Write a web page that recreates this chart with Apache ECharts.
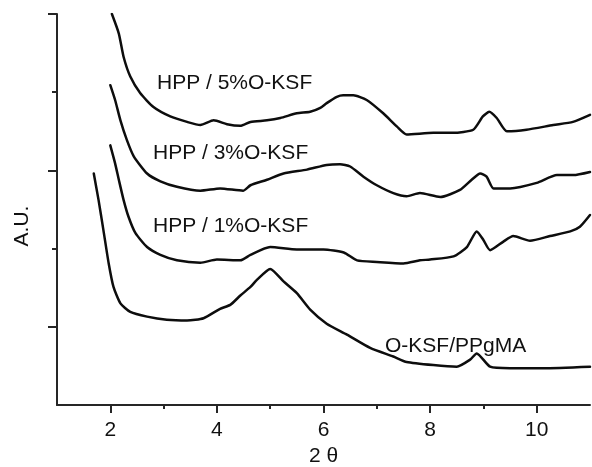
<!DOCTYPE html>
<html><head><meta charset="utf-8">
<script src="https://cdn.jsdelivr.net/npm/echarts@6/dist/echarts.min.js"></script>
<style>html,body{margin:0;padding:0;background:#fff}#c{width:592px;height:467px}</style>
</head><body><div id="c"></div>
<script>
// ---- data ----
const xTickLabels = [2, 4, 6, 8, 10];
const xMinorTicks = [3, 5, 7, 9];
const yMajorTicks = [1, 3, 5];
const yMinorTicks = [2, 4];
const seriesNames = ['HPP / 5%O-KSF', 'HPP / 3%O-KSF', 'HPP / 1%O-KSF', 'O-KSF/PPgMA'];

const hpp5 = [[2.03,5.0],[2.16,4.75],[2.25,4.45],[2.375,4.20],[2.56,3.99],[2.81,3.81],[3.125,3.69],[3.44,3.62],[3.69,3.58],[3.94,3.64],[4.19,3.59],[4.44,3.57],[4.63,3.62],[4.94,3.64],[5.19,3.67],[5.5,3.73],[5.75,3.75],[5.94,3.80],[6.06,3.86],[6.25,3.94],[6.37,3.96],[6.56,3.96],[6.81,3.90],[7.12,3.73],[7.38,3.56],[7.56,3.46],[8.06,3.48],[8.43,3.48],[8.81,3.52],[8.99,3.69],[9.11,3.75],[9.25,3.67],[9.44,3.50],[9.81,3.52],[10.31,3.58],[10.68,3.62],[11.0,3.71]];
const hpp3 = [[2.0,4.09],[2.09,3.90],[2.19,3.64],[2.31,3.39],[2.44,3.18],[2.69,2.96],[2.94,2.86],[3.25,2.79],[3.69,2.74],[4.06,2.77],[4.49,2.74],[4.63,2.81],[4.94,2.88],[5.25,2.96],[5.69,3.01],[6.06,3.07],[6.31,3.08],[6.5,3.05],[6.75,2.92],[7.0,2.81],[7.31,2.71],[7.56,2.67],[7.81,2.71],[8.19,2.66],[8.56,2.75],[8.78,2.88],[8.94,2.96],[9.06,2.92],[9.19,2.77],[9.5,2.77],[10.0,2.84],[10.38,2.94],[10.69,2.94],[11.0,2.98]];
const hpp1 = [[2.0,3.32],[2.09,3.09],[2.16,2.88],[2.25,2.62],[2.34,2.41],[2.47,2.20],[2.69,2.02],[2.94,1.92],[3.25,1.85],[3.69,1.82],[4.0,1.86],[4.44,1.85],[4.63,1.92],[5.0,2.02],[5.5,1.99],[6.0,1.99],[6.38,1.95],[6.63,1.85],[7.0,1.83],[7.5,1.81],[7.81,1.85],[8.0,1.86],[8.44,1.90],[8.69,2.02],[8.875,2.22],[9.0,2.11],[9.125,1.98],[9.375,2.09],[9.56,2.16],[9.875,2.10],[10.25,2.16],[10.63,2.22],[10.81,2.28],[11.0,2.43]];
const oksf = [[1.69,2.96],[1.78,2.62],[1.87,2.24],[1.97,1.81],[2.06,1.51],[2.19,1.30],[2.375,1.19],[2.69,1.13],[3.06,1.09],[3.44,1.08],[3.75,1.11],[4.06,1.23],[4.25,1.28],[4.44,1.40],[4.63,1.51],[4.75,1.60],[5.0,1.74],[5.25,1.58],[5.5,1.43],[5.75,1.22],[6.06,1.04],[6.44,0.90],[6.875,0.73],[7.31,0.62],[7.56,0.55],[8.06,0.51],[8.5,0.49],[8.75,0.58],[8.875,0.66],[9.125,0.49],[9.5,0.47],[10.12,0.47],[11.0,0.49]];

// ---- chart ----
const font = '"Liberation Sans", Arial, sans-serif';
const axisColor = '#262626';
const textColor = '#111';
const lineColor = '#0d0d0d';

const chart = echarts.init(document.getElementById('c'), null, {renderer: 'canvas'});

function lineSeries(name, data) {
  return {
    name: name, type: 'line', data: data, showSymbol: false, symbol: 'none',
    xAxisIndex: 0, yAxisIndex: 0,
    lineStyle: {color: lineColor, width: 2.5, join: 'round', cap: 'round'}, smooth: 0.2, silent: true
  };
}

function annotation(text, x, y) {
  return {
    type: 'text', x: x, y: y, silent: true,
    style: {text: text, fontSize: 21, fontFamily: font, fill: textColor,
            textAlign: 'left', textVerticalAlign: 'middle', align: 'left', verticalAlign: 'middle'}
  };
}

const option = {
  animation: false,
  backgroundColor: '#fff',
  grid: {left: 57, right: 2, top: 14, bottom: 62, containLabel: false, outerBoundsMode: 'none'},
  xAxis: [{
    type: 'value', min: 1, max: 11, interval: 1,
    axisLine: {lineStyle: {color: axisColor, width: 2}},
    axisTick: {customValues: xMinorTicks, length: 4, lineStyle: {color: axisColor, width: 2}},
    axisLabel: {customValues: xTickLabels, fontSize: 21, fontFamily: font, color: textColor, margin: 15},
    splitLine: {show: false},
    name: '2 θ', nameLocation: 'middle', nameGap: 41,
    nameTextStyle: {fontSize: 21, fontFamily: font, color: textColor}
  }, {
    type: 'value', min: 1, max: 11, interval: 1, position: 'bottom',
    axisLine: {show: false},
    axisTick: {customValues: xTickLabels, length: 8, lineStyle: {color: axisColor, width: 2}},
    axisLabel: {show: false},
    splitLine: {show: false}
  }],
  yAxis: [{
    type: 'value', min: 0, max: 5, interval: 1,
    axisLine: {show: true, lineStyle: {color: axisColor, width: 2}},
    axisTick: {show: true, customValues: yMinorTicks, length: 5, lineStyle: {color: axisColor, width: 2}},
    axisLabel: {show: false},
    splitLine: {show: false}
  }, {
    type: 'value', min: 0, max: 5, interval: 1, position: 'left',
    axisLine: {show: false},
    axisTick: {show: true, customValues: yMajorTicks, length: 9, lineStyle: {color: axisColor, width: 2}},
    axisLabel: {show: false},
    splitLine: {show: false}
  }],
  series: [
    lineSeries(seriesNames[0], hpp5),
    lineSeries(seriesNames[1], hpp3),
    lineSeries(seriesNames[2], hpp1),
    lineSeries(seriesNames[3], oksf)
  ],
  graphic: [
    annotation(seriesNames[0], 157, 83),
    annotation(seriesNames[1], 153, 153),
    annotation(seriesNames[2], 153, 226),
    annotation(seriesNames[3], 385, 346),
    {
      type: 'text', x: 22, y: 226, rotation: Math.PI / 2, silent: true,
      style: {text: 'A.U.', fontSize: 21, fontFamily: font, fill: textColor,
              textAlign: 'center', textVerticalAlign: 'middle', align: 'center', verticalAlign: 'middle'}
    }
  ]
};
chart.setOption(option);
</script>
</body></html>
